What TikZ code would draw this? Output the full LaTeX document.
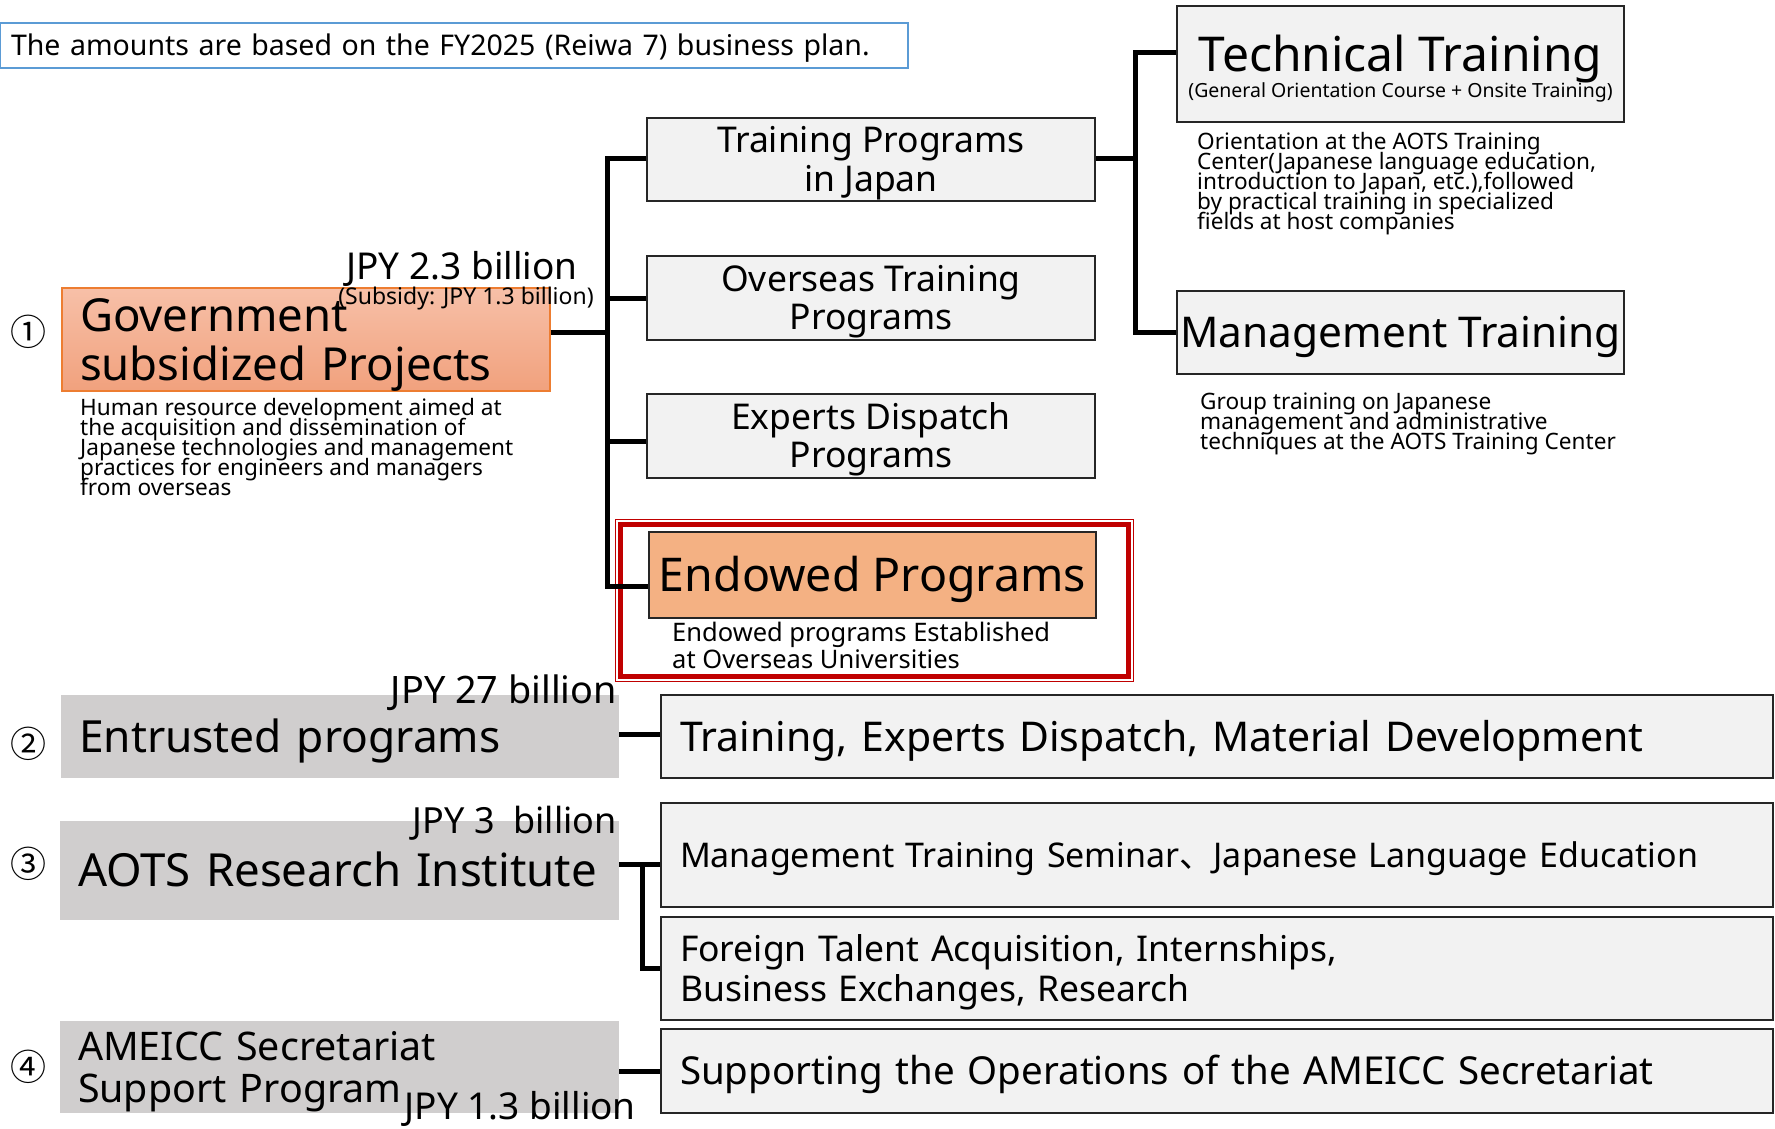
\documentclass[tikz,border=0pt]{standalone}
\usepackage{fontspec}
\setmainfont{Noto Sans}
\newfontfamily\cjk{Noto Sans CJK JP}
\usetikzlibrary{positioning}
\definecolor{noteblue}{HTML}{5B9BD5}
\definecolor{lightbox}{HTML}{F2F2F2}
\definecolor{greybox}{HTML}{D0CECE}
\definecolor{govtop}{HTML}{F7C0A8}
\definecolor{govbot}{HTML}{F1A17D}
\definecolor{govline}{HTML}{ED7D31}
\definecolor{endowfill}{HTML}{F4B183}
\definecolor{framered}{HTML}{C00000}
\newcommand{\fs}[2]{\fontsize{#1}{#2}\selectfont\lineskiplimit=-100pt\relax}
\newcommand{\st}{\rule[-0.24em]{0pt}{1.19em}}

\begin{document}
\begin{tikzpicture}[x=1pt,y=-1pt,
  prog/.style={draw=black!85,line width=1.8pt,fill=lightbox,inner sep=0pt,align=center},
  wide/.style={prog,align=left,text width=1074pt,inner xsep=19pt,minimum width=1112pt},
  grey/.style={fill=greybox,inner ysep=0pt,inner xsep=18pt,align=left},
  desc/.style={inner sep=0pt,align=left,anchor=north west},
  amount/.style={inner sep=0pt,anchor=base},
  num/.style={inner sep=0pt,font=\cjk\fs{36}{36}},
  conn/.style={line width=5pt}]
\useasboundingbox (0,0) rectangle (1775,1128);

\node[draw=noteblue,line width=2pt,fill=white,inner sep=0pt,minimum height=45pt,text width=886pt,inner xsep=11pt,align=left,font=\fs{28.5}{28.5}] (note) at (454,45.5)
  {\st The amounts are based on the FY2025 (Reiwa 7) business plan.};

\node[top color=govtop,bottom color=govbot,draw=govline,line width=1.2pt,text width=452pt,minimum height=97pt,inner ysep=0pt,inner xsep=18pt,align=left,font=\fs{45.5}{49}] (gov) at (306,339.5)
  {\st Government\\subsidized Projects\st};
\node[num] (n1) at (28,332) {①};
\node[amount,font=\fs{37}{37}] (amt1) at (462,279) {JPY 2.3 billion};
\node[amount,font=\fs{23}{23}] (sub1) at (466,304) {(Subsidy: JPY 1.3 billion)};
\node[desc,font=\fs{22.6}{20}] (govdesc) at (80,398)
  {Human resource development aimed at\\the acquisition and dissemination of\\Japanese technologies and management\\practices for engineers and managers\\from overseas};

\node[prog,minimum width=448pt,minimum height=83pt,font=\fs{35.5}{38.5}] (tpj) at (871,159.5) {\st Training Programs\\in Japan\st};
\node[prog,minimum width=448pt,minimum height=84pt,font=\fs{35.5}{38.5}] (ovs) at (871,298) {\st Overseas Training\\Programs\st};
\node[prog,minimum width=448pt,minimum height=84pt,font=\fs{35.5}{38.5}] (exp) at (871,436) {\st Experts Dispatch\\Programs\st};

\draw[framered,line width=4.5pt] (620.5,524.5) rectangle (1128.5,676.5);
\draw[framered,line width=1pt] (615.5,519.5) rectangle (1133.5,681.5);
\node[prog,fill=endowfill,minimum width=447pt,minimum height=86pt,font=\fs{46.5}{46.5}] (endow) at (872.5,575) {\st Endowed Programs};
\node[desc,font=\fs{25.5}{27}] (endowdesc) at (672,622) {Endowed programs Established\\at Overseas Universities};

\node[prog,minimum width=447pt,minimum height=116pt,font=\fs{48}{26}] (tech) at (1400.5,64)
  {\rule{0pt}{45.6pt}Technical Training\\{\fs{19.5}{19.5}(General Orientation Course + Onsite Training)\rule[-5.6pt]{0pt}{0pt}}};
\node[desc,font=\fs{22.6}{20}] (techdesc) at (1197,132)
  {Orientation at the AOTS Training\\Center(Japanese language education,\\introduction to Japan, etc.),followed\\by practical training in specialized\\fields at host companies};
\node[prog,minimum width=447pt,minimum height=83pt,font=\fs{42.4}{42.4}] (mgt) at (1400.5,332.5) {\st Management Training};
\node[desc,font=\fs{22.6}{20}] (mgtdesc) at (1200,393)
  {Group training on Japanese\\management and administrative\\techniques at the AOTS Training Center};

\coordinate (trunk) at (607,332);
\coordinate (trunk2) at (1135,158);
\coordinate (b1) at (607,158);
\coordinate (b4) at (607,586);
\coordinate (t1) at (1135,52);
\draw[conn] (gov.east |- trunk) -- (trunk);
\draw[conn] (tpj.west |- b1) -- (b1) -- (b4) -- (endow.west |- b4);
\draw[conn] (ovs.west) -- (trunk |- ovs.west);
\draw[conn] (exp.west |- 0,441) -- (trunk |- 0,441);
\draw[conn] (tpj.east |- trunk2) -- (trunk2);
\draw[conn] (tech.west |- t1) -- (t1) |- (mgt.west);

\node[grey,text width=522pt,minimum height=83pt,font=\fs{44.3}{44.3}] (ent) at (340,736.5) {\st Entrusted programs};
\node[num] (n2) at (28,744) {②};
\node[amount,anchor=base east,font=\fs{37.8}{37.8}] (amt2) at (617,703) {JPY 27 billion};
\node[wide,minimum height=83pt,font=\fs{41}{41}] (tedm) at (1217,736.5) {\st Training, Experts Dispatch, Material Development};
\coordinate (j2) at (619,734);
\draw[conn] (j2) -- (tedm.west |- j2);

\node[grey,text width=523pt,minimum height=99pt,font=\fs{45.6}{45.6}] (aots) at (339.5,870.5) {\st AOTS Research Institute};
\node[num] (n3) at (28,864) {③};
\node[amount,anchor=base east,font=\fs{36}{36}] (amt3) at (617,833) {JPY 3~~billion};
\node[wide,minimum height=104pt,font=\fs{34}{34}] (mts) at (1217,855) {\st Management Training Seminar{\cjk 、}Japanese Language Education};
\node[wide,minimum height=103pt,font=\fs{35.5}{40}] (ftl) at (1217,968.5) {\st Foreign Talent Acquisition, Internships,\\Business Exchanges, Research\st};
\coordinate (j3) at (642,864);
\draw[conn] (aots.east |- j3) -- (mts.west |- j3);
\draw[conn] (j3) |- (ftl.west);

\node[grey,text width=523pt,minimum height=92pt,font=\fs{39.4}{42}] (ameicc) at (339.5,1067) {\st AMEICC Secretariat\\Support Program\st};
\node[num] (n4) at (28,1067) {④};
\node[amount,anchor=base east,font=\fs{37}{37}] (amt4) at (636,1119) {JPY 1.3 billion};
\node[wide,minimum height=84pt,font=\fs{38.5}{38.5}] (sup) at (1217,1071) {\st Supporting the Operations of the AMEICC Secretariat};
\draw[conn] (ameicc.east |- sup.west) -- (sup.west);
\end{tikzpicture}
\end{document}
